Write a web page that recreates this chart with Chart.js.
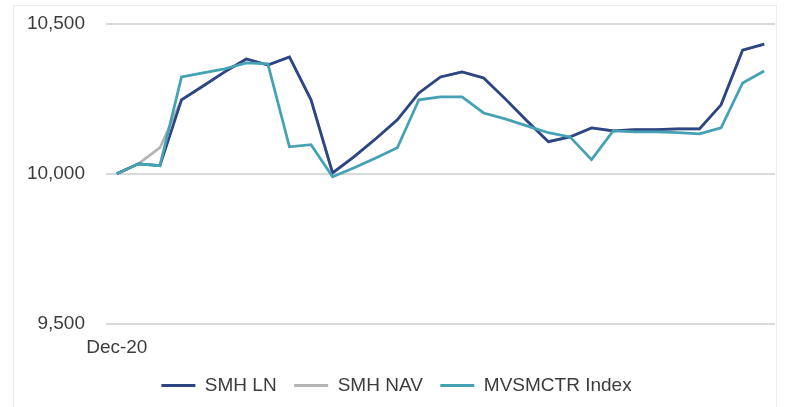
<!DOCTYPE html>
<html>
<head>
<meta charset="utf-8">
<script src="https://cdn.jsdelivr.net/npm/chart.js@4.4.1/dist/chart.umd.min.js"></script>
<style>
  html, body { margin: 0; padding: 0; background: #fff; }
  #wrap { position: relative; width: 788px; height: 407px; }
  #frame { position: absolute; left: 13px; top: 5px; width: 764px; height: 410px; border: 1px solid #ededed; box-sizing: border-box; }
  #chart { position: absolute; left: 0; top: 0; }
</style>
</head>
<body>
<div id="wrap">
  <div id="frame"></div>
  <canvas id="chart" width="788" height="407"></canvas>
</div>
<script>
// one label per point, only the first one is shown on the chart
const xLabels = ['Dec-20', '', '', '', '', '', '', '', '', '', '', '', '', '', '', '', '', '', '', '', '', '', '', '', '', '', '', '', '', '', ''];

const smhLn = [10000, 10033, 10027, 10247, 10293, 10340, 10383, 10363, 10390, 10247,
  10003, 10057, 10117, 10180, 10270, 10323, 10340, 10320, 10250, 10177,
  10107, 10123, 10153, 10143, 10147, 10147, 10150, 10150, 10230, 10413, 10433];

const smhNav = [10000, 10033, 10087, 10247, 10293, 10340, 10383, 10363, 10390, 10247,
  10003, 10057, 10117, 10180, 10270, 10323, 10340, 10320, 10250, 10177,
  10107, 10123, 10153, 10143, 10147, 10147, 10150, 10150, 10230, 10413, 10433];

const mvsmctr = [10000, 10033, 10027, 10323, 10337, 10350, 10370, 10367, 10090, 10097,
  9990, 10020, 10053, 10087, 10247, 10257, 10257, 10203, 10183, 10160,
  10137, 10123, 10047, 10143, 10140, 10140, 10137, 10133, 10153, 10303, 10343];

const yTicks = [9500, 10000, 10500];

const font = {family: '"Liberation Sans", Arial, sans-serif', size: 19};
const textColor = '#3c3c3c';

const ctx = document.getElementById('chart').getContext('2d');
new Chart(ctx, {
  type: 'line',
  data: {
    labels: xLabels,
    datasets: [
      {
        label: 'SMH LN',
        data: smhLn,
        borderColor: '#2c4585',
        backgroundColor: '#2c4585',
        borderWidth: 2.75,
        order: 1
      },
      {
        label: 'SMH NAV',
        data: smhNav,
        borderColor: '#b4b4b4',
        backgroundColor: '#b4b4b4',
        borderWidth: 2.75,
        order: 2
      },
      {
        label: 'MVSMCTR Index',
        data: mvsmctr,
        borderColor: '#45a2b4',
        backgroundColor: '#45a2b4',
        borderWidth: 2.75,
        order: 0
      }
    ]
  },
  options: {
    responsive: false,
    animation: false,
    layout: {
      padding: {left: 18, right: 13, top: 24, bottom: 2}
    },
    elements: {
      point: {radius: 0},
      line: {tension: 0}
    },
    plugins: {
      tooltip: {enabled: false},
      legend: {
        position: 'bottom',
        labels: {
          font: font,
          color: textColor,
          boxWidth: 34,
          boxHeight: 3,
          padding: 17.5,
          // legend order follows the dataset order, not the drawing order
          generateLabels: (chart) => chart.data.datasets.map((ds, i) => ({
            text: ds.label,
            fillStyle: ds.backgroundColor,
            strokeStyle: ds.borderColor,
            lineWidth: 0,
            fontColor: textColor,
            hidden: false,
            datasetIndex: i
          }))
        }
      }
    },
    scales: {
      x: {
        offset: true,
        grid: {display: false, drawTicks: false},
        border: {display: false},
        ticks: {
          autoSkip: false,
          maxRotation: 0,
          padding: 13,
          font: font,
          color: textColor
        },
        afterFit: (s) => { s.height = 35; }
      },
      y: {
        min: 9500,
        max: 10500,
        afterBuildTicks: (s) => { s.ticks = yTicks.map((v) => ({value: v})); },
        // invisible tick marks give the gap between labels and grid
        grid: {color: '#d9d9d9', lineWidth: 2, drawTicks: true, tickLength: 21, tickColor: 'rgba(0,0,0,0)'},
        border: {display: false},
        ticks: {
          padding: 0,
          font: font,
          color: textColor,
          callback: (v) => v.toLocaleString('en-US')
        },
        afterFit: (s) => { s.width = 88; }
      }
    }
  }
});
</script>
</body>
</html>
